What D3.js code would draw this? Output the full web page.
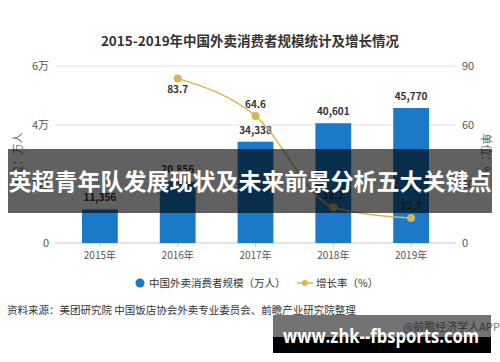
<!DOCTYPE html>
<html>
<head>
<meta charset="utf-8">
<script src="https://cdn.jsdelivr.net/npm/d3@7"></script>
<style>
  body { margin: 0; background: #fff; }
  svg { display: block; font-family: "Noto Sans CJK SC", "Noto Sans", sans-serif; }
</style>
</head>
<body>
<svg id="chart" width="500" height="362"></svg>
<script>
var years = ['2015年', '2016年', '2017年', '2018年', '2019年'];
var consumers = [11356, 20856, 34338, 40601, 45770];
var growthYears = ['2016年', '2017年', '2018年', '2019年'];
var growth = [83.7, 64.6, 18.2, 12.7];
var leftTicks = [0, 20000, 40000, 60000];
var leftTickLabels = ['0', '2万', '4万', '6万'];
var rightTicks = [0, 30, 60, 90];

var svg = d3.select('#chart');
var barColor = '#1a7ac8';
var lineColor = '#d6b45a';

var x = d3.scaleBand().domain(years).range([61, 450]).paddingInner(0.54).paddingOuter(0.27);
var yL = d3.scaleLinear().domain([0, 60000]).range([243, 66]);
var yR = d3.scaleLinear().domain([0, 90]).range([243, 66]);

// title
svg.append('text')
  .attr('x', 250).attr('y', 46)
  .attr('text-anchor', 'middle')
  .attr('font-size', 13.5).attr('font-weight', 'bold').attr('fill', '#333')
  .text('2015-2019年中国外卖消费者规模统计及增长情况');

// grid
svg.selectAll('line.grid')
  .data(leftTicks.slice(1))
  .enter().append('line')
  .attr('class', 'grid')
  .attr('x1', 55).attr('x2', 456)
  .attr('y1', function (d) { return yL(d); })
  .attr('y2', function (d) { return yL(d); })
  .attr('stroke', '#e2e2e2');

svg.append('line')
  .attr('x1', 55).attr('x2', 456)
  .attr('y1', yL(0)).attr('y2', yL(0))
  .attr('stroke', '#c8c8c8');

svg.selectAll('line.tick')
  .data(years)
  .enter().append('line')
  .attr('class', 'tick')
  .attr('x1', function (d) { return x(d) + x.bandwidth() / 2; })
  .attr('x2', function (d) { return x(d) + x.bandwidth() / 2; })
  .attr('y1', yL(0)).attr('y2', yL(0) + 4)
  .attr('stroke', '#c8c8c8');

// axis labels
svg.selectAll('text.yl')
  .data(leftTicks)
  .enter().append('text')
  .attr('class', 'yl')
  .attr('x', 49)
  .attr('y', function (d) { return yL(d) + 4; })
  .attr('text-anchor', 'end')
  .attr('font-size', 11).attr('fill', '#555')
  .text(function (d, i) { return leftTickLabels[i]; });

svg.selectAll('text.yr')
  .data(rightTicks)
  .enter().append('text')
  .attr('class', 'yr')
  .attr('x', 462)
  .attr('y', function (d) { return yR(d) + 4; })
  .attr('font-size', 11).attr('fill', '#555')
  .text(function (d) { return d; });

svg.append('text')
  .attr('transform', 'translate(22,160) rotate(-90)')
  .attr('text-anchor', 'middle')
  .attr('font-size', 11).attr('fill', '#666')
  .text('单位：万人');

svg.append('text')
  .attr('transform', 'translate(482,155) rotate(90)')
  .attr('text-anchor', 'middle')
  .attr('font-size', 11).attr('fill', '#666')
  .text('单位：%');

// bars
svg.selectAll('rect.bar')
  .data(consumers)
  .enter().append('rect')
  .attr('class', 'bar')
  .attr('x', function (d, i) { return x(years[i]); })
  .attr('width', x.bandwidth())
  .attr('y', function (d) { return yL(d); })
  .attr('height', function (d) { return yL(0) - yL(d); })
  .attr('fill', barColor);

svg.selectAll('text.barlabel')
  .data(consumers)
  .enter().append('text')
  .attr('class', 'barlabel')
  .attr('x', function (d, i) { return x(years[i]) + x.bandwidth() / 2; })
  .attr('y', function (d) { return yL(d) - 8; })
  .attr('text-anchor', 'middle')
  .attr('font-size', 10).attr('font-weight', 'bold').attr('fill', '#333')
  .text(function (d) { return d3.format(',')(d); });

svg.selectAll('text.xl')
  .data(years)
  .enter().append('text')
  .attr('class', 'xl')
  .attr('x', function (d) { return x(d) + x.bandwidth() / 2; })
  .attr('y', 259)
  .attr('text-anchor', 'middle')
  .attr('font-size', 10).attr('fill', '#555')
  .text(function (d) { return d; });

// growth line
var cx = function (d, i) { return x(growthYears[i]) + x.bandwidth() / 2; };
var line = d3.line()
  .x(cx)
  .y(function (d) { return yR(d); })
  .curve(d3.curveMonotoneX);

svg.append('path')
  .datum(growth)
  .attr('d', line)
  .attr('fill', 'none')
  .attr('stroke', lineColor)
  .attr('stroke-width', 1.5);

svg.selectAll('circle.pt')
  .data(growth)
  .enter().append('circle')
  .attr('class', 'pt')
  .attr('cx', cx)
  .attr('cy', function (d) { return yR(d); })
  .attr('r', 4)
  .attr('fill', lineColor);

svg.selectAll('text.gl')
  .data(growth)
  .enter().append('text')
  .attr('class', 'gl')
  .attr('x', cx)
  .attr('y', function (d, i) { return i === 0 ? yR(d) + 15 : yR(d) - 8; })
  .attr('text-anchor', 'middle')
  .attr('font-size', 10).attr('font-weight', 'bold').attr('fill', '#333')
  .text(function (d) { return d3.format('.1f')(d); });

// legend
svg.append('circle').attr('cx', 140).attr('cy', 283).attr('r', 4.5).attr('fill', barColor);
svg.append('text').attr('x', 149).attr('y', 287)
  .attr('font-size', 10.5).attr('fill', '#333')
  .text('中国外卖消费者规模（万人）');
svg.append('line').attr('x1', 297).attr('x2', 313).attr('y1', 283).attr('y2', 283)
  .attr('stroke', lineColor).attr('stroke-width', 1.5);
svg.append('circle').attr('cx', 305).attr('cy', 283).attr('r', 3).attr('fill', lineColor);
svg.append('text').attr('x', 316).attr('y', 287)
  .attr('font-size', 10.5).attr('fill', '#333')
  .text('增长率（%）');

// source
svg.append('text').attr('x', 7).attr('y', 314)
  .attr('font-size', 10.5).attr('fill', '#333')
  .text('资料来源：美团研究院 中国饭店协会外卖专业委员会、前瞻产业研究院整理');

svg.append('text').attr('x', 500).attr('y', 331)
  .attr('text-anchor', 'end')
  .attr('font-size', 11).attr('fill', '#777')
  .text('@前瞻经济学人APP');

// overlay banners
svg.append('rect').attr('x', 8).attr('y', 149).attr('width', 484).attr('height', 64)
  .attr('fill', '#000').attr('fill-opacity', 0.62);
svg.append('text').attr('x', 250).attr('y', 190)
  .attr('text-anchor', 'middle')
  .attr('font-size', 23).attr('font-weight', 'bold').attr('fill', '#fff')
  .text('英超青年队发展现状及未来前景分析五大关键点');

svg.append('rect').attr('x', 273).attr('y', 315).attr('width', 218).attr('height', 22)
  .attr('fill', '#000').attr('fill-opacity', 0.55);
svg.append('rect').attr('x', 273).attr('y', 337).attr('width', 218).attr('height', 16)
  .attr('fill', '#000');
svg.append('text').attr('x', 283).attr('y', 343)
  .attr('font-family', '"Open Sans", sans-serif')
  .attr('font-size', 19).attr('font-weight', 'bold').attr('fill', '#fff')
  .attr('textLength', 196).attr('lengthAdjust', 'spacingAndGlyphs')
  .text('www.zhk--fbsports.com');
</script>
</body>
</html>
